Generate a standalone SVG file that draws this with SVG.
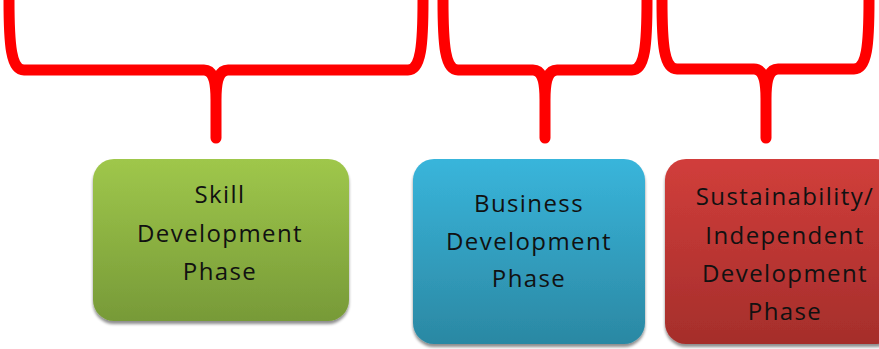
<svg xmlns="http://www.w3.org/2000/svg" width="879" height="349" viewBox="0 0 879 349">
<defs>
<linearGradient id="gGreen" x1="0" y1="0" x2="0" y2="1">
<stop offset="0" stop-color="#9fc74b"/><stop offset="1" stop-color="#779a38"/>
</linearGradient>
<linearGradient id="gBlue" x1="0" y1="0" x2="0" y2="1">
<stop offset="0" stop-color="#39b5db"/><stop offset="1" stop-color="#2b88a3"/>
</linearGradient>
<linearGradient id="gRed" x1="0" y1="0" x2="0" y2="1">
<stop offset="0" stop-color="#d13e3b"/><stop offset="1" stop-color="#a52e2b"/>
</linearGradient>
<filter id="sh" x="-10%" y="-10%" width="120%" height="125%">
<feGaussianBlur in="SourceAlpha" stdDeviation="1.5"/>
<feOffset dx="0" dy="2.5" result="b"/>
<feComponentTransfer><feFuncA type="linear" slope="0.45"/></feComponentTransfer>
<feMerge><feMergeNode/><feMergeNode in="SourceGraphic"/></feMerge>
</filter>
</defs>
<style>
.brace{fill:none;stroke:#ff0000;stroke-width:11;stroke-linecap:round;stroke-linejoin:round}
.lbl{font-family:"Open Sans","DejaVu Sans",sans-serif;font-size:24px;fill:#111;text-anchor:middle;letter-spacing:1.4px}
</style>
<g id="connectors">
<path class="brace" d="M9,-6 L9,0 C9,45 11,70 24,70 L204,70 C212,70 216,78 216,100 L216,138 M216,100 C216,78 220,70 228,70 L408,70 C421,70 423,45 423,0 L423,-6"/>
<path class="brace" d="M443,-6 L443,0 C443,45 445,70 458,70 L533,70 C541,70 545,78 545,100 L545,138 M545,100 C545,78 549,70 557,70 L632,70 C645,70 647,45 647,0 L647,-6"/>
<path class="brace" d="M662,-6 L662,0 C662,45 664,69 677,69 L754,69 C762,69 766,77 766,99 L766,138 M766,99 C766,77 770,69 778,69 L854,69 C867,69 869,45 869,0 L869,-6"/>
</g>
<g id="node-skill">
<rect x="93" y="159" width="256" height="162" rx="21" fill="url(#gGreen)" filter="url(#sh)"/>
<text class="lbl" x="220" y="203">Skill</text>
<text class="lbl" x="220" y="242">Development</text>
<text class="lbl" x="220" y="280">Phase</text>
</g>
<g id="node-business">
<rect x="413" y="159" width="232" height="185" rx="21" fill="url(#gBlue)" filter="url(#sh)"/>
<text class="lbl" x="529" y="212">Business</text>
<text class="lbl" x="529" y="250">Development</text>
<text class="lbl" x="529" y="287">Phase</text>
</g>
<g id="node-sustainability">
<rect x="665" y="159" width="232" height="185" rx="21" fill="url(#gRed)" filter="url(#sh)"/>
<text class="lbl" x="785" y="205">Sustainability/</text>
<text class="lbl" x="785" y="244">Independent</text>
<text class="lbl" x="785" y="282">Development</text>
<text class="lbl" x="785" y="320">Phase</text>
</g>
</svg>
